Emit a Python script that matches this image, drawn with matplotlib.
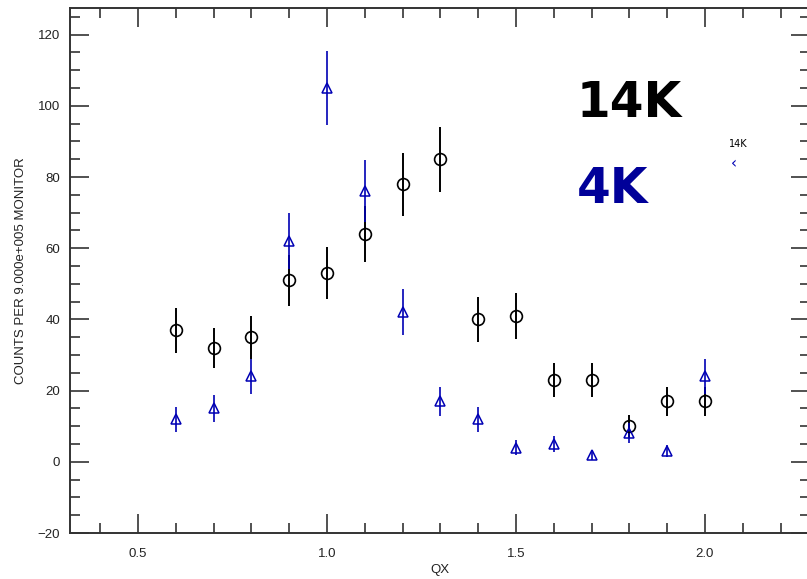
import numpy as np
import matplotlib.pyplot as plt
from matplotlib.ticker import MultipleLocator

# QX scan, counts normalised per 9.000e+005 monitor
qx = [0.6, 0.7, 0.8, 0.9, 1.0, 1.1, 1.2, 1.3, 1.4, 1.5, 1.6, 1.7, 1.8, 1.9, 2.0]

counts_14k = [37, 32, 35, 51, 53, 64, 78, 85, 40, 41, 23, 23, 10, 17, 17]
err_14k = [6.3, 5.6, 6.0, 7.1, 7.3, 8.0, 8.8, 9.2, 6.3, 6.4, 4.8, 4.8, 3.2, 4.1, 4.1]

counts_4k = [12, 15, 24, 62, 105, 76, 42, 17, 12, 4, 5, 2, 8, 3, 24]
err_4k = [3.5, 3.9, 4.9, 7.9, 10.3, 8.7, 6.5, 4.1, 3.5, 2.0, 2.2, 1.4, 2.8, 1.7, 4.9]

navy = '#0000b4'
axcol = '#333333'

fig = plt.figure(figsize=(8.07, 5.79), dpi=100)
W, H = 807, 579
ax = fig.add_axes([70 / W, 1 - 533 / H, 740 / W, 525 / H])

ax.errorbar(qx, counts_14k, yerr=err_14k, fmt='o', ms=8.5, mfc='none',
            mec='black', mew=1.2, ecolor='black', elinewidth=1.4, capsize=0)
ax.errorbar(qx, counts_4k, yerr=err_4k, fmt='^', ms=6.5, mfc='none',
            mec=navy, mew=1.1, ecolor=navy, elinewidth=1.2, capsize=0)

ax.set_xlim(0.32, 2.278)
ax.set_ylim(-20, 127.5)

ax.xaxis.set_major_locator(MultipleLocator(0.5))
ax.xaxis.set_minor_locator(MultipleLocator(0.1))
ax.yaxis.set_major_locator(MultipleLocator(20))
ax.yaxis.set_minor_locator(MultipleLocator(5))
ax.xaxis.set_major_formatter(lambda v, p: f'{v:.1f}')
ax.yaxis.set_major_formatter(lambda v, p: f'{v:.0f}'.replace('-', '\u2212'))

ax.tick_params(which='both', direction='in', top=True, right=True,
               color=axcol, width=1.2, labelsize=9.5, labelcolor='#222222')
ax.tick_params(which='major', length=14)
ax.tick_params(which='minor', length=7)
ax.tick_params(axis='x', which='major', pad=11)
ax.tick_params(axis='y', which='major', pad=7)
for s in ax.spines.values():
    s.set_color(axcol)
    s.set_linewidth(1.4)

for lab in ax.get_xticklabels() + ax.get_yticklabels():
    lab.set_family('Liberation Sans')

ax.set_xlabel('QX', fontsize=9.5, family='Liberation Sans', color='#222222',
              labelpad=3)
ax.set_ylabel('COUNTS PER 9.000e+005 MONITOR', fontsize=9.5,
              family='Liberation Sans', color='#222222', labelpad=8)

# temperature labels
fig.text(577 / W, 1 - 117 / H, '14K', fontsize=35, fontweight='bold',
         family='DejaVu Sans', color='black')
fig.text(577 / W, 1 - 203 / H, '4K', fontsize=35, fontweight='bold',
         family='DejaVu Sans', color='#000099')

# small legend tags
fig.text(729 / W, 1 - 147 / H, '14K', fontsize=7, color='black')
fig.text(731 / W, 1 - 168 / H, '\u2039', fontsize=11, color=navy)

fig.savefig('out.png', dpi=100)
